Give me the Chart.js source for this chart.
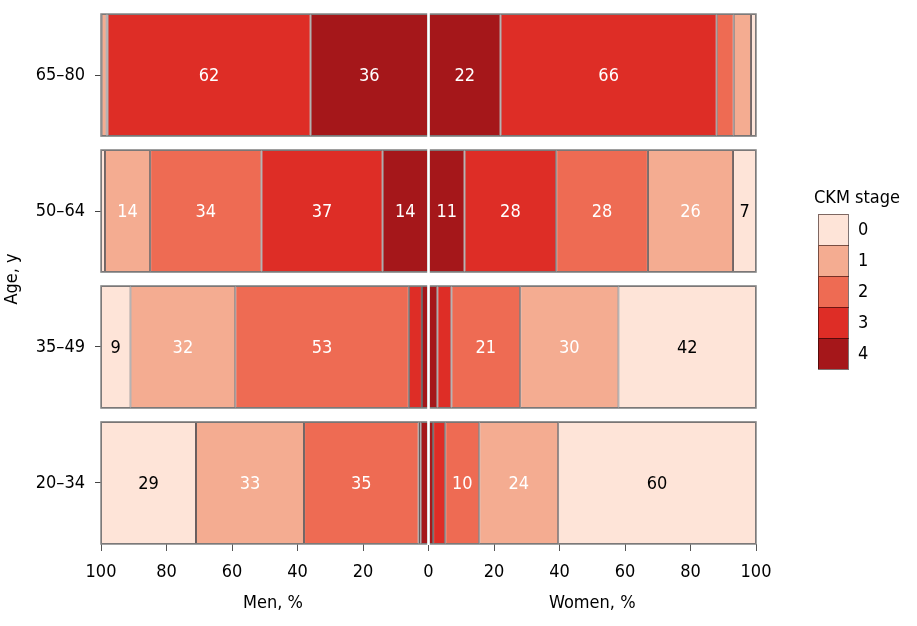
<!DOCTYPE html>
<html lang="en">
<head>
  <meta charset="UTF-8">
  <title>CKM stage by age and sex</title>
  <script src="https://cdn.jsdelivr.net/npm/chart.js"></script>
  <style>
    body { margin: 0; background: #fff; }
    #wrap { width: 917px; height: 626px; }
  </style>
</head>
<body>

<div id="wrap"><canvas id="ckmChart"></canvas></div>

<script>
  // rows, top to bottom
  const ages = ["65–80", "50–64", "35–49", "20–34"];
  const stageLabels = ["0", "1", "2", "3", "4"];
  const stageColors = ["#FEE4D8", "#F4AC91", "#EE6B53", "#DE2D26", "#A5171A"];

  // men, % per stage (one value per age row)
  const men0 = [0.2, 1.2, 9, 29];
  const men1 = [1.5, 13.8, 32, 33];
  const men2 = [0.3, 34, 53, 35];
  const men3 = [62, 37, 4, 0.6];
  const men4 = [36, 14, 2, 2.4];

  // women, % per stage
  const women0 = [1.5, 7, 42, 60.4];
  const women1 = [5.3, 26, 30, 24.1];
  const women2 = [5.2, 28, 21, 10.4];
  const women3 = [66, 28, 4.3, 3.7];
  const women4 = [22, 11, 2.7, 1.4];

  const xTicks = [-100, -80, -60, -40, -20, 0, 20, 40, 60, 80, 100];

  const menByStage = [men0, men1, men2, men3, men4];
  const womenByStage = [women0, women1, women2, women3, women4];

  const FONT = "'DejaVu Sans Condensed', 'Liberation Sans Narrow', sans-serif";
  Chart.defaults.font.family = FONT;
  Chart.defaults.color = "#000";

  // stage 4 sits next to 0, stage 0 on the outside
  function sumFrom(arrs, s, i) {
    let t = 0;
    for (let k = s; k < arrs.length; k++) t += arrs[k][i];
    return t;
  }

  const datasets = [];
  stageLabels.forEach((st, s) => {
    datasets.push({
      label: "Men " + st,
      values: menByStage[s],
      data: ages.map((a, i) => ({ x: [-sumFrom(menByStage, s, i), -sumFrom(menByStage, s + 1, i)], y: i })),
      backgroundColor: stageColors[s],
      borderColor: "rgba(20,0,0,0.65)",
      borderWidth: 1,
      borderSkipped: false,
      grouped: false,
      stage: s
    });
    datasets.push({
      label: "Women " + st,
      values: womenByStage[s],
      data: ages.map((a, i) => ({ x: [sumFrom(womenByStage, s + 1, i), sumFrom(womenByStage, s, i)], y: i })),
      backgroundColor: stageColors[s],
      borderColor: "rgba(20,0,0,0.65)",
      borderWidth: 1,
      borderSkipped: false,
      grouped: false,
      stage: s
    });
  });

  const decorations = {
    id: "decorations",
    afterDatasetsDraw(chart) {
      const ctx = chart.ctx;
      const xs = chart.scales.x, ys = chart.scales.y;
      const area = chart.chartArea;
      const meta0 = chart.getDatasetMeta(0);

      // row frames
      ctx.save();
      ctx.strokeStyle = "#858585";
      ctx.lineWidth = 1.5;
      ages.forEach((a, i) => {
        const h = meta0.data[i].height;
        const yc = ys.getPixelForValue(i);
        ctx.strokeRect(xs.getPixelForValue(-100), yc - h / 2, xs.getPixelForValue(100) - xs.getPixelForValue(-100), h);
      });

      // white split at zero
      const x0 = xs.getPixelForValue(0);
      ctx.fillStyle = "#fff";
      ctx.fillRect(x0 - 1.3, area.top - 2, 2.6, area.bottom - area.top + 3);

      // value labels
      ctx.font = "18px " + FONT;
      ctx.textAlign = "center";
      ctx.textBaseline = "middle";
      chart.data.datasets.forEach((ds, d) => {
        const meta = chart.getDatasetMeta(d);
        ds.values.forEach((v, i) => {
          if (v < 6.5) return;
          const el = meta.data[i];
          ctx.fillStyle = ds.stage === 0 ? "#000" : "#fff";
          ctx.fillText(Math.round(v), (el.x + el.base) / 2, el.y + 1);
        });
      });
      ctx.restore();
    },
    afterDraw(chart) {
      const ctx = chart.ctx;
      const xs = chart.scales.x;
      ctx.save();
      ctx.fillStyle = "#000";
      ctx.font = "18px " + FONT;
      ctx.textAlign = "center";
      ctx.textBaseline = "middle";
      ctx.fillText("Men, %", xs.getPixelForValue(-47.5), 603);
      ctx.fillText("Women, %", xs.getPixelForValue(50), 603);

      // legend
      ctx.fillText("CKM stage", 857, 198);
      ctx.textAlign = "left";
      stageLabels.forEach((st, s) => {
        const y = 214 + s * 31;
        ctx.fillStyle = stageColors[s];
        ctx.fillRect(818, y, 30, 31);
        ctx.strokeStyle = "rgba(20,0,0,0.55)";
        ctx.lineWidth = 1;
        ctx.strokeRect(818.5, y + 0.5, 30, 31);
        ctx.fillStyle = "#000";
        ctx.fillText(st, 858, y + 16);
      });
      ctx.restore();
    }
  };

  new Chart(document.getElementById("ckmChart"), {
    type: "bar",
    data: { datasets: datasets },
    options: {
      indexAxis: "y",
      responsive: true,
      maintainAspectRatio: false,
      animation: false,
      categoryPercentage: 1,
      barPercentage: 0.898,
      layout: { padding: { left: 0, right: 161, top: 14, bottom: 0 } },
      plugins: {
        legend: { display: false },
        tooltip: { enabled: false }
      },
      scales: {
        x: {
          type: "linear",
          min: -100,
          max: 100,
          afterBuildTicks: s => { s.ticks = xTicks.map(v => ({ value: v })); },
          ticks: {
            callback: v => Math.abs(v),
            font: { size: 18 },
            color: "#000",
            padding: 11,
            maxRotation: 0,
            autoSkip: false
          },
          grid: { drawOnChartArea: false, tickLength: 7, color: "#555" },
          border: { display: false },
          afterFit: s => { s.height = 82; }
        },
        y: {
          type: "linear",
          reverse: true,
          offset: false,
          min: -0.449,
          max: 3.449,
          afterBuildTicks: s => { s.ticks = ages.map((a, i) => ({ value: i })); },
          ticks: {
            callback: v => ages[v],
            font: { size: 18 },
            color: "#000",
            padding: 10
          },
          grid: { drawOnChartArea: false, offset: false, tickLength: 6, color: "#444" },
          border: { display: false },
          title: { display: true, text: "Age, y", font: { size: 18 }, color: "#000", padding: 2 },
          afterFit: s => {
            s.width = 101;
            s.paddingTop = 0;
            s.paddingBottom = 0;
          }
        }
      }
    },
    plugins: [decorations]
  });
</script>

</body>
</html>
